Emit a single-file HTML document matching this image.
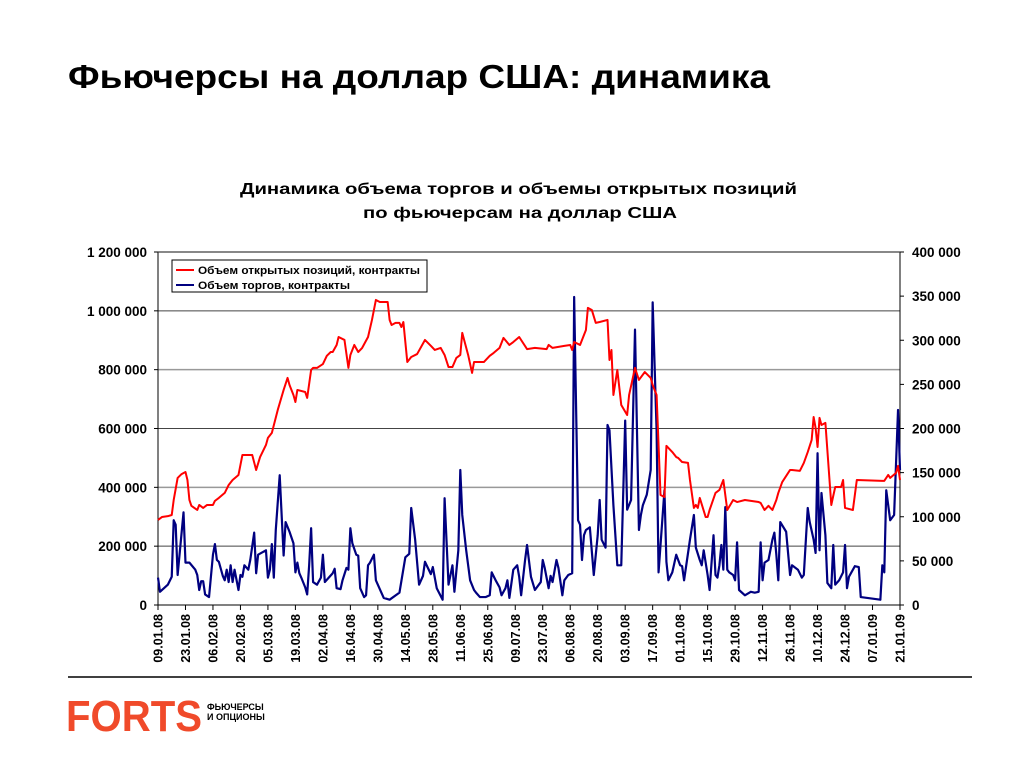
<!DOCTYPE html>
<html><head><meta charset="utf-8"><style>
html,body{margin:0;padding:0;background:#fff;}
body{width:1024px;height:768px;position:relative;overflow:hidden;font-family:"Liberation Sans","Noto Sans CJK SC",sans-serif;}
svg text{font-family:"Liberation Sans","Noto Sans CJK SC",sans-serif;}
</style></head><body>
<svg id="chart" width="1024" height="768" style="position:absolute;left:0;top:0">
<text x="68" y="88" font-size="33" font-weight="bold" textLength="702" lengthAdjust="spacingAndGlyphs">Фьючерсы на доллар США: динамика</text>
<text x="240" y="194" font-size="16" font-weight="bold" textLength="557" lengthAdjust="spacingAndGlyphs">Динамика объема торгов и объемы открытых позиций</text>
<text x="363" y="218" font-size="16" font-weight="bold" textLength="314" lengthAdjust="spacingAndGlyphs">по фьючерсам на доллар США</text>
<g id="grid"></g><g id="axes"></g><g id="series"></g>
<g>
<rect x="172" y="260" width="255" height="32" fill="#fff" stroke="#000" stroke-width="1"/>
<line x1="176" y1="270" x2="194" y2="270" stroke="#f00" stroke-width="2"/>
<text x="198" y="274" font-size="11" font-weight="bold" textLength="222" lengthAdjust="spacingAndGlyphs">Объем открытых позиций, контракты</text>
<line x1="176" y1="285" x2="194" y2="285" stroke="#000080" stroke-width="2"/>
<text x="198" y="289" font-size="11" font-weight="bold" textLength="152" lengthAdjust="spacingAndGlyphs">Объем торгов, контракты</text>
</g>
<line x1="68" y1="677" x2="972" y2="677" stroke="#000" stroke-width="1.5"/>
<g>
<text x="66" y="731" font-size="44" font-weight="bold" fill="#f04a2a" textLength="136" lengthAdjust="spacingAndGlyphs">FORTS</text>
<text x="207" y="710" font-size="9" font-weight="bold">ФЬЮЧЕРСЫ</text>
<text x="207" y="720" font-size="9" font-weight="bold">И ОПЦИОНЫ</text>
</g>
</svg>
<script>
const xLabels=["09.01.08","23.01.08","06.02.08","20.02.08","05.03.08","19.03.08","02.04.08","16.04.08","30.04.08","14.05.08","28.05.08","11.06.08","25.06.08","09.07.08","23.07.08","06.08.08","20.08.08","03.09.08","17.09.08","01.10.08","15.10.08","29.10.08","12.11.08","26.11.08","10.12.08","24.12.08","07.01.09","21.01.09"];
const leftTicks=[0,200000,400000,600000,800000,1000000,1200000];
const rightTicks=[0,50000,100000,150000,200000,250000,300000,350000,400000];
const oiDays=[0,2,5,7,8,10,12,14,15,16,17,20,21,23,25,28,29,31,34,36,38,41,42,43,45,48,50,52,55,56,58,61,64,66,67,69,70,71,75,76,78,79,81,84,86,88,89,91,92,95,97,98,100,102,104,107,109,111,113,117,118,119,121,123,124,125,127,129,132,136,139,141,144,146,148,150,152,154,155,158,160,161,166,169,171,174,176,179,181,184,188,192,198,199,201,207,210,211,212,215,218,219,221,223,225,229,230,231,232,234,236,239,240,243,245,248,251,252,254,256,258,259,262,264,265,267,270,271,273,274,275,276,279,280,281,284,286,288,290,293,295,299,306,307,309,311,313,315,316,318,322,323,327,329,331,333,334,335,336,337,338,340,343,344,345,348,349,350,354,356,369,370,372,373,376,377,378];
const oiValues=[289,299,302,306,357,432,445,452,425,357,337,323,340,330,340,340,354,364,381,408,425,442,476,510,510,510,459,503,544,568,585,663,731,772,748,714,690,731,724,704,799,806,806,819,847,860,860,884,911,901,806,850,884,860,874,911,969,1037,1030,1030,969,952,959,959,945,962,826,843,853,901,881,867,874,850,809,809,840,850,925,850,789,826,826,847,857,874,908,884,894,911,870,874,870,884,874,881,884,867,894,884,935,1010,1003,959,962,969,833,867,714,799,680,646,714,806,765,792,772,748,714,374,367,541,520,503,500,486,483,425,330,340,330,364,299,299,323,381,391,425,323,357,350,357,350,347,323,337,323,357,381,418,459,459,456,483,520,561,639,602,537,636,612,619,340,371,401,401,425,330,323,425,422,422,442,432,449,473,425,408];
const volDays=[0,1,5,7,8,9,10,13,14,16,19,20,21,22,23,24,26,28,29,30,31,33,34,35,36,37,38,39,41,42,43,44,46,47,49,50,51,55,56,57,58,59,60,62,64,65,67,69,70,71,72,73,75,76,77,78,79,81,83,84,85,87,89,90,91,93,94,96,97,98,99,101,102,103,105,106,107,108,110,111,115,118,123,126,128,129,131,133,135,136,139,140,142,145,146,148,150,151,153,154,155,157,159,161,162,164,167,169,170,172,174,175,177,178,179,181,183,184,185,187,188,190,192,195,196,197,199,200,201,203,204,206,207,209,211,212,214,215,216,217,218,220,222,224,225,226,228,229,230,232,234,236,238,239,241,243,245,246,247,249,251,252,254,255,256,258,259,260,262,264,266,267,268,271,273,274,276,277,278,280,281,283,284,285,286,287,288,289,290,291,293,294,295,296,299,302,304,306,307,308,309,311,313,314,315,316,317,320,322,323,326,328,329,331,332,334,335,336,337,338,340,341,343,344,345,347,349,350,351,352,355,357,358,368,369,370,371,373,375,377,378];
const volValues=[31,15,23,32,96,91,34,105,48,48,40,34,17,27,27,12,9,57,69,51,49,33,28,40,26,45,26,40,17,34,32,45,40,51,82,36,57,62,31,40,69,31,85,147,56,94,83,70,37,48,36,31,20,12,45,87,26,23,31,57,26,31,36,41,19,18,28,42,40,87,70,57,56,19,9,11,45,48,57,28,8,6,14,54,58,110,74,23,33,49,35,43,19,6,121,23,45,15,62,153,102,62,28,17,14,9,9,11,37,28,20,11,19,28,8,40,45,32,11,51,68,32,17,26,51,42,19,33,26,51,42,11,28,34,36,349,96,91,51,79,85,88,34,79,119,74,65,204,198,113,45,45,209,108,119,312,85,102,113,125,153,343,198,37,68,130,49,28,37,57,45,44,28,74,102,65,51,45,62,34,17,79,34,31,45,68,40,111,40,37,34,28,71,17,11,15,14,15,71,28,48,51,74,82,57,28,94,83,34,45,40,31,34,110,94,74,59,172,62,127,79,25,19,68,23,28,37,68,19,32,44,43,9,6,45,37,130,96,102,221,153];
const SVGNS="http://www.w3.org/2000/svg";
const X0=158,X1=900,Y0=605,Y1=252,TOTAL_DAYS=378;
function xScale(d){return X0+d/TOTAL_DAYS*(X1-X0);}
function yLeft(v){return Y0-v/1200000*(Y0-Y1);}
function yRight(v){return Y0-v/400000*(Y0-Y1);}
function fmt(v){return String(v).replace(/\B(?=(\d{3})+(?!\d))/g," ");}
function mk(tag,attrs,parent){const e=document.createElementNS(SVGNS,tag);for(const k in attrs)e.setAttribute(k,attrs[k]);parent.appendChild(e);return e;}
const grid=document.getElementById('grid'),axes=document.getElementById('axes'),series=document.getElementById('series');
leftTicks.forEach((v,i)=>{
  if(v>0){const g=mk('line',{x1:X0,x2:X1,y1:yLeft(v),y2:yLeft(v),stroke:i%2?'#444':'#999','stroke-width':i%2?1:1.5},grid);
  
  }
  mk('line',{x1:X0-4,x2:X0,y1:yLeft(v),y2:yLeft(v),stroke:'#000'},axes);
  const t=mk('text',{x:147,y:yLeft(v)+5,'text-anchor':'end','font-size':13.5,'font-weight':'bold'},axes);
  t.textContent=fmt(v);
  
  
});
rightTicks.forEach(v=>{
  mk('line',{x1:X1,x2:X1+4,y1:yRight(v),y2:yRight(v),stroke:'#000'},axes);
  const t=mk('text',{x:912,y:yRight(v)+5,'font-size':13.5,'font-weight':'bold'},axes);
  t.textContent=fmt(v);
  
  
});
mk('line',{x1:X0,x2:X0,y1:Y1,y2:Y0,stroke:'#000'},axes);
mk('line',{x1:X1,x2:X1,y1:Y1,y2:Y0,stroke:'#000'},axes);
mk('line',{x1:X0,x2:X1,y1:Y0,y2:Y0,stroke:'#000'},axes);
mk('line',{x1:X0,x2:X1,y1:Y1,y2:Y1,stroke:'#444'},axes);
xLabels.forEach((s,i)=>{
  const x=xScale(i*14);
  mk('line',{x1:x,x2:x,y1:Y0,y2:Y0+5,stroke:'#000'},axes);
  const t=mk('text',{x:0,y:0,transform:`translate(${x+4.5},614) rotate(-90)`,'text-anchor':'end','font-size':12.5,'font-weight':'bold'},axes);
  t.textContent=s;
  
  
});
const volPath=mk('polyline',{points:volDays.map((d,i)=>xScale(d)+','+yRight(volValues[i]*1000)).join(' '),fill:'none',stroke:'#000080','stroke-width':2.2,'stroke-linejoin':'round'},series);


const oiPath=mk('polyline',{points:oiDays.map((d,i)=>xScale(d)+','+yLeft(oiValues[i]*1000)).join(' '),fill:'none',stroke:'#ff0000','stroke-width':2,'stroke-linejoin':'round'},series);


</script>
</body></html>
